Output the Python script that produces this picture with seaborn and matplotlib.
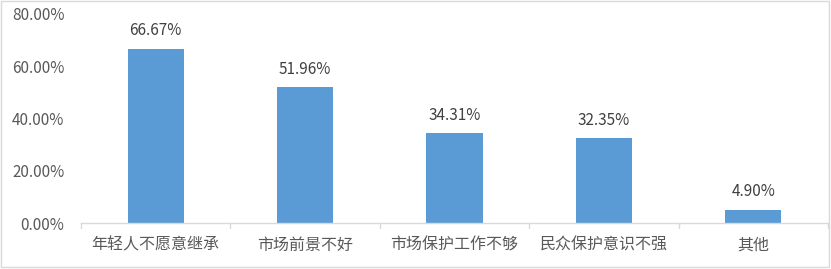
import matplotlib
matplotlib.use("Agg")
import matplotlib.pyplot as plt
import seaborn as sns
import pandas as pd
from matplotlib.patches import Rectangle

categories = ["年轻人不愿意继承", "市场前景不好", "市场保护工作不够", "民众保护意识不强", "其他"]
values = [66.67, 51.96, 34.31, 32.35, 4.90]
yticks = [0, 20, 40, 60, 80]

sns.set_theme(style="white")
plt.rcParams["font.family"] = ["Noto Sans CJK SC", "DejaVu Sans"]

df = pd.DataFrame({"category": categories, "value": values})

W, H = 831, 269
fig = plt.figure(figsize=(W / 100, H / 100), dpi=100)
ax = fig.add_axes([81 / W, 46 / H, (828 - 81) / W, (255 - 46) / H])

sns.barplot(data=df, x="category", y="value", color="#5B9BD5", saturation=1,
            width=0.375, ax=ax, edgecolor="none")

text_color = "#595959"
for i, v in enumerate(values):
    ax.annotate(f"{v:.2f}%", (i, v), xytext=(0, 7), textcoords="offset points",
                ha="center", va="bottom", fontsize=11, color="#404040")

ax.set_ylim(0, 80)
ax.set_xlim(-0.5, len(categories) - 0.5)
ax.set_yticks(yticks)
ax.set_yticklabels([f"{t:.2f}%" for t in yticks], fontsize=11, color=text_color)
ax.tick_params(axis="y", length=0, pad=12)
ax.set_xticks(range(len(categories)))
ax.set_xticklabels(categories, fontsize=11.5, color=text_color)
ax.tick_params(axis="x", length=0, pad=10)
ax.set_xlabel("")
ax.set_ylabel("")

for s in ["left", "right", "top"]:
    ax.spines[s].set_visible(False)
ax.spines["bottom"].set_color("#D9D9D9")
ax.spines["bottom"].set_linewidth(1)

# category separator ticks below the axis line
for b in [x - 0.5 for x in range(len(categories) + 1)]:
    ax.plot([b, b], [0, -2.0], color="#D9D9D9", lw=1, clip_on=False)

# chart border
fig.patches.append(Rectangle((0.5 / W, 2 / H), (W - 2.5) / W, (H - 3) / H,
                             transform=fig.transFigure, fill=False,
                             edgecolor="#D9D9D9", lw=1))

fig.savefig("out.png", dpi=100, facecolor="white")
